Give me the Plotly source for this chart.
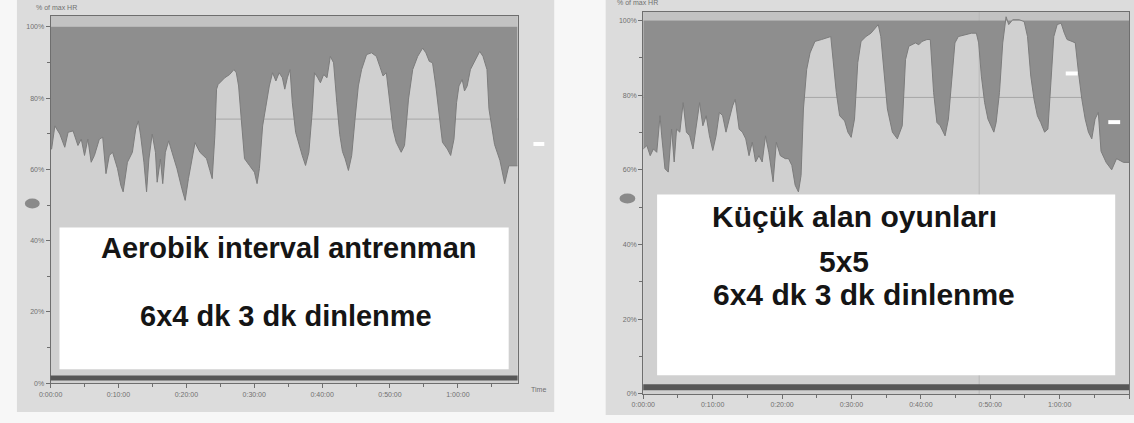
import plotly.graph_objects as go

W, H = 1134, 423

# ---------------- data (minutes, % of max HR) ----------------
left_minutes = [0.0, 0.15, 0.63, 1.36, 2.09, 2.58, 3.31, 4.03, 4.52, 5.0, 5.49, 5.98, 6.46, 7.19, 7.68,
                8.16, 8.65, 9.13, 9.86, 10.35, 10.69, 11.32, 12.05, 12.54, 12.93, 13.27, 13.75, 14.14,
                14.48, 14.97, 15.45, 15.7, 16.18, 16.52, 16.91, 17.4, 17.89, 18.62, 19.34, 19.83, 20.31,
                20.8, 21.28, 22.0, 22.98, 23.47, 23.81, 24.2, 24.45, 24.68, 25.66, 26.38, 27.01, 27.36,
                27.7, 28.09, 28.57, 29.3, 30.03, 30.42, 30.76, 31.24, 31.73, 32.22, 32.7, 33.19, 33.67,
                34.15, 34.5, 34.88, 35.28, 35.61, 36.1, 36.59, 37.07, 37.56, 38.05, 38.53, 38.88, 39.36,
                39.75, 40.23, 40.72, 41.21, 41.69, 42.17, 42.6, 43.0, 43.39, 43.88, 44.36, 44.85, 45.34,
                45.82, 46.55, 47.28, 48.0, 48.5, 48.98, 49.46, 49.96, 50.44, 50.92, 51.65, 52.14, 52.73,
                53.35, 54.08, 54.81, 55.29, 55.79, 56.27, 56.75, 57.25, 57.73, 58.45, 58.94, 59.43, 59.81,
                60.16, 60.64, 60.98, 61.37, 61.85, 62.58, 63.22, 63.7, 64.29, 64.58, 65.4, 66.2, 66.9,
                67.5, 68.5, 68.8]
left_hr = [65.7, 65.7, 72.2, 69.9, 66.2, 70.4, 70.8, 66.7, 68.5, 63.9, 68.5, 62.0, 63.9, 68.5, 69.0,
           58.8, 63.9, 64.8, 60.2, 55.5, 53.7, 62.0, 64.8, 71.3, 73.6, 69.4, 62.0, 53.7,
           62.9, 69.9, 64.8, 56.4, 62.9, 56.0, 64.8, 68.0, 64.8, 60.2, 54.6, 51.3, 57.4,
           62.0, 67.5, 64.8, 63.0, 59.7, 57.4, 69.4, 82.5, 83.8, 85.7, 86.6, 88.0, 87.1,
           83.4, 74.1, 63.0, 61.1, 59.2, 56.0, 60.2, 72.2, 77.8, 83.4, 87.1, 84.8, 87.1,
           85.7, 82.5, 85.7, 88.0, 78.7, 70.4, 66.7, 63.9, 61.1, 64.8, 75.9, 87.1, 85.7,
           84.3, 86.6, 85.7, 91.7, 89.9, 78.7, 69.8, 65.0, 63.0, 59.7, 63.9, 74.1, 83.4,
           88.0, 92.2, 92.7, 91.7, 88.9, 86.2, 87.1, 78.7, 71.3, 67.6, 64.8, 66.7, 79.7,
           88.0, 91.7, 94.0, 92.7, 90.3, 89.9, 83.4, 75.0, 67.6, 65.7, 63.9, 68.5, 78.7,
           83.4, 85.2, 82.0, 83.4, 88.0, 90.8, 93.1, 91.7, 88.0, 77.0, 67.0, 62.5, 56.0,
           61.0, 61.0, 61.0]

right_minutes = [0.0, 0.52, 1.0, 1.47, 1.95, 2.42, 2.66, 3.13, 3.61, 4.08, 4.46, 4.8, 5.27, 5.75, 6.22,
                 6.7, 7.17, 7.65, 8.12, 8.59, 9.07, 9.54, 10.02, 10.49, 10.97, 11.44, 11.92, 12.39,
                 12.87, 13.25, 13.82, 14.29, 14.77, 15.24, 15.71, 16.19, 16.67, 17.14, 17.62, 18.09,
                 18.71, 19.18, 19.75, 20.47, 20.94, 21.41, 21.89, 22.36, 22.74, 23.08, 23.55, 24.03,
                 24.74, 25.69, 26.4, 27.02, 27.35, 27.82, 28.3, 29.02, 29.49, 29.96, 30.44, 30.91,
                 31.38, 32.09, 32.81, 33.52, 33.86, 34.23, 34.71, 35.18, 35.9, 36.61, 37.32, 37.79,
                 38.27, 38.75, 39.22, 39.7, 40.17, 40.88, 41.36, 41.84, 42.31, 42.78, 43.26, 43.49,
                 43.97, 44.44, 44.91, 45.4, 46.34, 47.29, 48.0, 48.33, 48.72, 49.19, 49.67, 50.14,
                 50.52, 50.85, 51.33, 51.8, 52.28, 52.66, 53.23, 54.18, 54.89, 55.37, 55.84, 56.31,
                 56.79, 57.26, 57.83, 58.31, 58.79, 59.16, 59.64, 60.21, 60.68, 61.07, 61.78, 62.25,
                 62.72, 63.2, 63.68, 64.15, 64.63, 65.1, 65.57, 65.96, 66.7, 67.5, 68.2, 69.2, 70.0]
right_hr = [65.6, 66.5, 63.8, 65.6, 64.7, 74.5, 69.1, 60.3, 59.4, 70.9, 62.1, 70.9, 70.1, 78.0, 70.1,
            69.1, 65.6, 71.8, 78.0, 71.8, 74.5, 69.1, 65.2, 69.1, 75.4, 74.5, 70.1, 73.6,
            77.1, 78.9, 70.9, 70.1, 68.3, 63.8, 67.4, 62.1, 63.8, 62.1, 69.1, 64.7,
            56.8, 67.4, 63.8, 63.0, 63.0, 61.2, 55.9, 54.1, 58.5, 76.3, 86.9, 91.3,
            94.4, 94.9, 95.3, 95.7, 89.5, 80.7, 74.5, 73.1, 70.1, 68.7, 73.6, 88.7,
            94.4, 95.7, 96.6, 98.0, 98.9, 95.7, 85.1, 76.3, 70.1, 68.3, 71.8, 89.5,
            93.1, 93.5, 94.0, 93.5, 94.4, 94.9, 94.9, 80.7, 72.7, 71.8, 70.1, 69.1,
            73.6, 85.1, 94.0, 95.7, 96.2, 96.6, 96.6, 94.0, 85.1, 78.0, 73.6, 71.4,
            70.1, 72.7, 80.7, 94.0, 101.0, 98.9, 100.2, 100.2, 99.7, 95.7, 85.1, 78.9,
            74.5, 72.7, 70.1, 70.9, 85.1, 95.7, 98.9, 99.3, 96.6, 94.9, 94.4, 94.0,
            86.0, 78.9, 73.6, 70.1, 68.3, 73.6, 75.4, 65.0, 62.0, 60.0, 63.0, 62.0, 62.0]

y_tick_vals = [0, 20, 40, 60, 80, 100]
y_tick_text = ["0%", "20%", "40%", "60%", "80%", "100%"]
left_x_ticks = [0, 10, 20, 30, 40, 50, 60]
left_x_text = ["0:00:00", "0:10:00", "0:20:00", "0:30:00", "0:40:00", "0:50:00", "1:00:00"]
right_x_ticks = [0, 10, 20, 30, 40, 50, 60, 70]
right_x_text = ["0:00:00", "0:10:00", "0:20:00", "0:30:00", "0:40:00", "0:50:00", "1:00:00", "1:10:00"]

left_title = ["Aerobik interval antrenman", "6x4 dk 3 dk dinlenme"]
right_title = ["Küçük alan oyunları", "5x5", "6x4 dk 3 dk dinlenme"]

# ---------------- styling ----------------
PANEL = "#dcdcdc"
LIGHT = "#d0d0d0"
DARK = "#8e8e8e"
BAND = "#c2c2c2"
FONT = "Liberation Sans, Arial, sans-serif"


def px(x):
    return x / W


def py(y):
    return 1 - y / H


fig = go.Figure()

fig.add_trace(go.Scatter(x=[left_minutes[0], left_minutes[-1]], y=[100, 100], mode="lines",
                         line=dict(width=0, color=DARK), xaxis="x", yaxis="y", showlegend=False,
                         hoverinfo="skip"))
fig.add_trace(go.Scatter(x=left_minutes, y=left_hr, mode="lines", fill="tonexty", fillcolor=DARK,
                         line=dict(width=1, color="#7c7c7c"), xaxis="x", yaxis="y", showlegend=False))
fig.add_trace(go.Scatter(x=[right_minutes[0], right_minutes[-1]], y=[100, 100], mode="lines",
                         line=dict(width=0, color=DARK), xaxis="x2", yaxis="y2", showlegend=False,
                         hoverinfo="skip"))
fig.add_trace(go.Scatter(x=right_minutes, y=right_hr, mode="lines", fill="tonexty", fillcolor=DARK,
                         line=dict(width=1, color="#7c7c7c"), xaxis="x2", yaxis="y2", showlegend=False))

L_X = (39, 511)
L_Y = (386, 16.2)
R_X = (638, 1129)
R_Y = (396.7, 12)
L_TOP = 103
R_TOP = 102.3

axis_common = dict(showgrid=False, zeroline=False, showline=True, mirror=True, linecolor="#6e6e6e",
                   linewidth=1, ticks="outside", ticklen=4, tickcolor="#6e6e6e",
                   tickfont=dict(family=FONT, size=7, color="#707070"))

fig.update_layout(
    width=W, height=H, margin=dict(l=0, r=0, t=0, b=0),
    paper_bgcolor="#f7f7f7", plot_bgcolor=LIGHT,
    xaxis=dict(domain=[px(L_X[0]), px(L_X[1])], range=[0, 68.8], anchor="y",
               tickvals=left_x_ticks, ticktext=left_x_text,
               minor=dict(dtick=5, ticklen=3, tickcolor="#6e6e6e", ticks="outside"), **axis_common),
    yaxis=dict(domain=[py(L_Y[0]), py(L_Y[1])], range=[0, L_TOP], anchor="x",
               tickvals=y_tick_vals, ticktext=y_tick_text,
               minor=dict(dtick=10, ticklen=3, tickcolor="#6e6e6e", ticks="outside"), **axis_common),
    xaxis2=dict(domain=[px(R_X[0]), px(R_X[1])], range=[0, 70], anchor="y2",
                tickvals=right_x_ticks, ticktext=right_x_text,
                minor=dict(dtick=5, ticklen=3, tickcolor="#6e6e6e", ticks="outside"), **axis_common),
    yaxis2=dict(domain=[py(R_Y[0]), py(R_Y[1])], range=[0, R_TOP], anchor="x2",
                tickvals=y_tick_vals, ticktext=y_tick_text,
                minor=dict(dtick=10, ticklen=3, tickcolor="#6e6e6e", ticks="outside"), **axis_common),
)

shapes = []
shapes.append(dict(type="rect", xref="paper", yref="paper", x0=px(5), x1=px(548), y0=py(415), y1=py(0),
                   fillcolor=PANEL, line=dict(width=0), layer="below"))
shapes.append(dict(type="rect", xref="paper", yref="paper", x0=px(600), x1=px(1134), y0=py(418), y1=py(0),
                   fillcolor=PANEL, line=dict(width=0), layer="below"))
for xa, ya, top, hline in [("x", "y", L_TOP, 74.1), ("x2", "y2", R_TOP, 79.4)]:
    dom = xa + " domain"
    ydom = ya + " domain"
    shapes.append(dict(type="rect", xref=dom, yref=ydom, x0=0, x1=1, y0=0, y1=1,
                       fillcolor=LIGHT, line=dict(width=0), layer="below"))
    shapes.append(dict(type="rect", xref=dom, yref=ya, x0=0, x1=1, y0=100, y1=top,
                       fillcolor=BAND, line=dict(width=0), layer="below"))
    shapes.append(dict(type="line", xref=dom, yref=ya, x0=0, x1=1, y0=hline, y1=hline,
                       line=dict(color="#a6a6a6", width=1), layer="below"))
shapes.append(dict(type="line", xref="x2", yref="y2 domain", x0=48.4, x1=48.4, y0=0, y1=1,
                   line=dict(color="#b8b8b8", width=1), layer="below"))
# white text boxes
shapes.append(dict(type="rect", xref="paper", yref="paper", x0=px(48), x1=px(502), y0=py(372), y1=py(229),
                   fillcolor="white", line=dict(width=0), layer="above"))
shapes.append(dict(type="rect", xref="paper", yref="paper", x0=px(652), x1=px(1115), y0=py(378), y1=py(196),
                   fillcolor="white", line=dict(width=0), layer="above"))
# dark bottom bands
shapes.append(dict(type="rect", xref="x domain", yref="y", x0=0, x1=1, y0=0.8, y1=2.2,
                   fillcolor="#575757", line=dict(width=0), layer="above"))
shapes.append(dict(type="rect", xref="x2 domain", yref="y2", x0=0, x1=1, y0=1.0, y1=2.6,
                   fillcolor="#575757", line=dict(width=0), layer="above"))
# ovals on the y axes
shapes.append(dict(type="circle", xref="paper", yref="paper", x0=px(13), x1=px(28), y0=py(210), y1=py(200),
                   fillcolor="#8a8a8a", line=dict(width=0), layer="above"))
shapes.append(dict(type="circle", xref="paper", yref="paper", x0=px(614), x1=px(630), y0=py(205), y1=py(195),
                   fillcolor="#8a8a8a", line=dict(width=0), layer="above"))
# small white dashes
for x0, x1, y0, y1 in [(527, 538, 147, 143), (1065, 1077, 76, 72), (1108, 1120, 125, 121)]:
    shapes.append(dict(type="rect", xref="paper", yref="paper", x0=px(x0), x1=px(x1), y0=py(y0), y1=py(y1),
                       fillcolor="white", line=dict(width=0), layer="above"))
fig.update_layout(shapes=shapes)


def label(x, y, text, size, color="#151515"):
    return dict(x=px(x), y=py(y), xref="paper", yref="paper", text=text, showarrow=False,
                xanchor="center", yanchor="middle", font=dict(family=FONT, size=size, color=color))


ann = [
    label(280, 250, "<b>" + left_title[0] + "</b>", 29),
    label(277, 318, "<b>" + left_title[1] + "</b>", 29),
    label(852, 218, "<b>" + right_title[0] + "</b>", 30),
    label(841, 263, "<b>" + right_title[1] + "</b>", 30),
    label(861, 297, "<b>" + right_title[2] + "</b>", 30),
    label(532, 392, "Time", 7, "#707070"),
    label(45, 8, "% of max HR", 7, "#707070"),
    label(632, 3, "% of max HR", 7, "#707070"),
]
fig.update_layout(annotations=ann)

fig.write_html("out.html", config={"displayModeBar": False},
               post_script="document.body.style.margin='0';document.body.style.overflow='hidden';")
